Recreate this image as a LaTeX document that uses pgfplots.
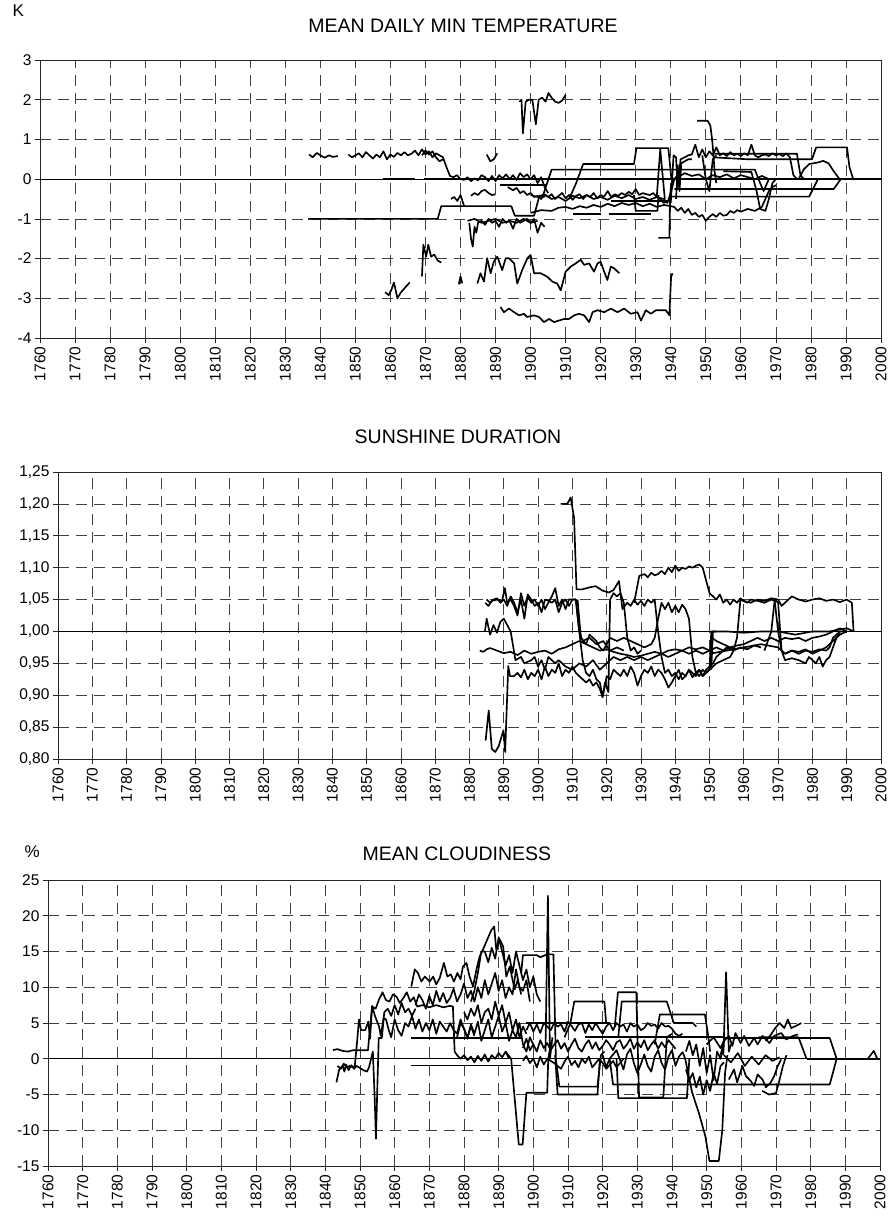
\documentclass[border=0pt]{standalone}
\usepackage{fontspec}
\setmainfont{Liberation Sans}
\usepackage{pgfplots}
\pgfplotsset{compat=1.18}
\newcommand\ticksize{\fontsize{15.5}{17}\selectfont}
\newcommand\titlesize{\fontsize{19.5}{22}\selectfont}
\pgfplotsset{
  panel/.style={
    scale only axis, xmin=1760, xmax=2000,
    xtick={1760,1770,...,2000},
    grid=major,
    major grid style={dash pattern=on 11pt off 7pt, black!75, line width=0.7pt},
    axis line style={line width=0.8pt, black!85},
    tick style={black!85, line width=0.7pt},
    tick align=outside, tick pos=left, major tick length=5pt,
    xticklabel style={rotate=90, anchor=east, font=\ticksize},
    yticklabel style={font=\ticksize},
    /pgf/number format/1000 sep={},
    /pgf/number format/assume math mode=true,
    clip=true,
  },
  d/.style={black, line width=1.65pt, line join=round, mark=none},
  base/.style={black, line width=0.8pt, mark=none},
}
\begin{document}
\begin{tikzpicture}
\useasboundingbox (0pt,0pt) rectangle (893pt,-1222pt);
% ===================== TOP: MEAN DAILY MIN TEMPERATURE =====================
\begin{axis}[panel, at={(40pt,-338pt)}, anchor=south west,
  width=841pt, height=278pt, ymin=-4, ymax=3, ytick={-4,-3,...,3}]
\addplot[base] coordinates {(1760,0) (2000,0)};
\addplot[d] coordinates {(1858,0) (1867,0)};
\addplot[d] coordinates {(1869.5,0) (2000,0)};
\addplot[d] coordinates {(1836.8,0.62) (1837.8,0.55) (1839,0.66) (1840,0.6) (1841.2,0.54) (1842.5,0.6) (1843.5,0.56) (1845,0.58)};
\addplot[d] coordinates {(1848,0.62) (1849,0.55) (1850,0.6) (1851,0.65) (1852,0.55) (1853,0.68) (1854,0.6) (1855,0.52) (1856,0.62) (1857,0.55) (1858,0.7) (1859,0.5) (1860,0.62) (1861,0.56) (1862,0.66) (1863,0.6) (1864,0.68) (1865,0.6) (1866,0.64) (1867,0.72) (1868,0.6) (1869,0.75) (1870,0.62) (1871,0.7) (1872,0.55) (1873,0.65) (1874,0.6) (1875,0.55) (1876,0.3) (1877,0.08) (1878,0.05) (1879,0.1) (1880,0.0) (1881,-0.02) (1882,0.05) (1883,-0.05) (1884,0.02) (1885,-0.03) (1886,0.1) (1887,0.05) (1888,-0.05) (1889,0.08) (1890,-0.05) (1891,0.1) (1892,0.02) (1893,0.12) (1894,0.0) (1895,0.1) (1896,-0.02) (1897,0.15) (1898,0.05) (1899,0.12) (1900,0.0) (1901,0.1) (1902,-0.1) (1903,0.05) (1904,-0.2) (1905,-0.35)};
\addplot[d] coordinates {(1869,0.6) (1870,0.72) (1871,0.62) (1872,0.7) (1873,0.55) (1874,0.45) (1875,0.5)};
\addplot[d] coordinates {(1887.5,0.62) (1888.5,0.45) (1889.5,0.5) (1890.5,0.65)};
\addplot[d] coordinates {(1896.8,1.95) (1897.4,2.0) (1897.8,1.15) (1898.6,1.95) (1899.5,2.0) (1900.5,2.0) (1901.5,1.38) (1902.3,2.0) (1903.3,2.05) (1904.3,1.95) (1905.1,2.17) (1906,2.05) (1907,1.95) (1908,1.92) (1909,1.98) (1910,2.12)};
\addplot[d] coordinates {(1836.5,-1.0) (1873.5,-1.0) (1874.5,-0.68) (1894.5,-0.68) (1895.5,-0.92) (1901,-0.92) (1902.5,-0.42) (1904,-0.45)};
\addplot[d] coordinates {(1911,-0.5) (1913,-0.1) (1915,0.38) (1929.5,0.38) (1930.2,0.78) (1939.3,0.78) (1940.2,0.0)};
\addplot[d] coordinates {(1903.5,-0.42) (1906,0.24) (1964,0.24) (1965.5,-0.1) (1966.5,-0.3) (1968,0.0)};
\addplot[d] coordinates {(1877.3,-0.5) (1878.2,-0.45) (1879.1,-0.55) (1880,-0.4) (1881,-0.67)};
\addplot[d] coordinates {(1883,-0.42) (1884,-0.35) (1885,-0.4) (1886,-0.3) (1887,-0.27) (1888,-0.35) (1889,-0.4) (1890,-0.38)};
\addplot[d] coordinates {(1893.5,-0.2) (1895,-0.28) (1896,-0.22) (1897,-0.35) (1898,-0.3) (1899,-0.4) (1900,-0.35) (1901,-0.45) (1902,-0.42) (1903,-0.5) (1904,-0.4) (1905,-0.45) (1906,-0.38) (1907,-0.5) (1908,-0.42) (1909,-0.35) (1910,-0.48) (1911,-0.4) (1912,-0.52) (1913,-0.42) (1914,-0.38) (1915,-0.5) (1916,-0.4) (1917,-0.45) (1918,-0.35) (1919,-0.48) (1920,-0.4) (1921,-0.44) (1922,-0.3) (1923,-0.45) (1924,-0.38) (1925,-0.42) (1926,-0.35) (1927,-0.4) (1928,-0.32) (1929,-0.38) (1930,-0.25) (1931,-0.4) (1932,-0.35) (1933,-0.38) (1934,-0.4) (1935,-0.35) (1936,-0.45) (1937,-0.5) (1938,-0.6) (1939,-0.55)};
\addplot[d] coordinates {(1900,-0.4) (1902,-0.45) (1904,-0.38) (1906,-0.5) (1908,-0.45) (1910,-0.55) (1912,-0.42) (1914,-0.48) (1916,-0.4) (1918,-0.5) (1920,-0.45) (1922,-0.52) (1924,-0.42) (1926,-0.48) (1928,-0.4) (1930,-0.5) (1932,-0.45) (1934,-0.52) (1936,-0.45) (1938,-0.5) (1939,-0.6) (1940,-0.35) (1941,0.0) (1942,0.1)};
\addplot[d] coordinates {(1900,-0.85) (1903,-0.78) (1906,-0.8) (1908,-0.72) (1910,-0.7) (1912,-0.75) (1914,-0.68) (1916,-0.72) (1918,-0.65) (1920,-0.7) (1922,-0.62) (1924,-0.68) (1926,-0.6) (1928,-0.65) (1930,-0.6) (1932,-0.68) (1934,-0.62) (1936,-0.7) (1938,-0.65) (1940,-0.68) (1941,-0.7) (1942,-0.8) (1943,-0.72) (1944,-0.85) (1945,-0.75) (1946,-0.9) (1947,-0.85) (1948,-0.95) (1949,-0.9) (1950,-1.05) (1951,-0.95) (1952,-0.88) (1953,-0.95) (1954,-0.85) (1955,-0.92) (1956,-0.9) (1957,-0.8) (1958,-0.85) (1959,-0.78) (1960,-0.82) (1962,-0.75) (1964,-0.8) (1966,-0.7) (1967,-0.5) (1968,-0.3) (1969,-0.2) (1970,-0.15)};
\addplot[d] coordinates {(1882.5,-1.1) (1883,-1.5) (1883.5,-1.7) (1884,-1.2) (1884.5,-1.35) (1885,-1.1) (1886,-1.05) (1887,-1.15) (1888,-1.0) (1889,-1.1) (1890,-1.05) (1891,-1.2) (1892,-1.0) (1893,-1.1) (1894,-1.05) (1895,-1.25) (1896,-1.0) (1897,-1.1) (1898,-1.05) (1899,-1.0) (1900,-1.1) (1901,-1.0) (1902,-1.35) (1903,-1.1) (1904,-1.2)};
\addplot[d] coordinates {(1882,-1.05) (1884,-1.0) (1886,-1.1) (1888,-1.05) (1890,-1.0) (1892,-1.1) (1894,-1.05) (1896,-1.1) (1898,-1.0) (1900,-1.1) (1902,-1.05)};
\addplot[d] coordinates {(1869,-2.45) (1869.4,-1.65) (1870.2,-1.95) (1870.8,-1.65) (1871.6,-1.95) (1872.5,-1.9) (1873.5,-2.05) (1874.5,-2.1)};
\addplot[d] coordinates {(1858.5,-2.85) (1859.5,-2.92) (1860.3,-2.78) (1861,-2.6) (1862,-3.0) (1863,-2.85) (1864,-2.75) (1865.5,-2.6)};
\addplot[d] coordinates {(1879.5,-2.65) (1880,-2.45) (1880.5,-2.62)};
\addplot[d] coordinates {(1884.8,-2.63) (1885.7,-2.37) (1886.7,-2.58) (1887.6,-1.99) (1888.6,-2.37) (1889.5,-2.08) (1890.5,-1.95) (1891.9,-2.29) (1892.9,-1.99) (1893.8,-1.99) (1895.3,-2.12) (1896.2,-2.63) (1897.6,-2.29) (1899.1,-1.99) (1900,-1.91) (1901,-2.37) (1902.9,-2.37) (1904.8,-2.46) (1906.2,-2.58) (1907.6,-2.63) (1908.6,-2.8) (1910,-2.33) (1911.5,-2.2) (1912.9,-2.12) (1914.3,-2.03) (1915.3,-2.16) (1916.7,-2.12) (1918.1,-2.33) (1919.1,-2.12) (1920,-2.08) (1921,-2.33) (1921.9,-2.54) (1922.9,-2.2) (1923.9,-2.25) (1925.3,-2.37)};
\addplot[d] coordinates {(1891.4,-3.22) (1892.4,-3.35) (1893.8,-3.26) (1895.3,-3.35) (1896.7,-3.43) (1898.1,-3.39) (1899,-3.47) (1901,-3.43) (1902.4,-3.47) (1903.8,-3.6) (1905.3,-3.52) (1906.7,-3.6) (1908.1,-3.56) (1909.6,-3.52) (1911,-3.52) (1912.4,-3.43) (1913.8,-3.39) (1915.3,-3.43) (1916.7,-3.6) (1917.7,-3.35) (1919.1,-3.3) (1921,-3.35) (1922.9,-3.26) (1924.8,-3.35) (1926.7,-3.26) (1928.6,-3.39) (1930.5,-3.35) (1931.5,-3.56) (1932.9,-3.3) (1934.3,-3.39) (1935.8,-3.3) (1937.2,-3.3) (1938.6,-3.3) (1939.6,-3.43) (1940.1,-2.46) (1940.5,-2.37)};
\addplot[d] coordinates {(1936.5,-1.48) (1939.6,-1.48) (1939.8,-0.4) (1940.2,-0.1)};
\addplot[d] coordinates {(1912,-0.88) (1920,-0.88)};
\addplot[d] coordinates {(1922.4,-0.88) (1934.3,-0.88)};
\addplot[d] coordinates {(1923,-0.55) (1940,-0.55)};
\addplot[d] coordinates {(1891.4,-0.15) (1904.8,-0.15)};
\addplot[d] coordinates {(1929.5,-0.4) (1930,-0.8) (1936.2,-0.8) (1936.5,-0.4)};
\addplot[d] coordinates {(1947.5,1.47) (1950.5,1.47) (1951.3,1.35) (1951.8,1.0) (1952.2,0.6) (1952.5,0.2) (1953,-0.1)};
\addplot[d] coordinates {(1936,-0.45) (1937,0.75) (1938.3,-0.5)};
\addplot[d] coordinates {(1940,-0.6) (1940.8,0.6) (1941.5,0.55) (1942,-0.2) (1942.8,0.5) (1944,0.55) (1945,0.6) (1946,0.62) (1947,0.87) (1948,0.55) (1949,0.75) (1950,0.55) (1951,0.7) (1952,0.6) (1953,0.8) (1954,0.6) (1955,0.65) (1956,0.58) (1957,0.68) (1958,0.6) (1959,0.64) (1960,0.58) (1961,0.65) (1962,0.6) (1963,0.87) (1964,0.6) (1965,0.55) (1966,0.6) (1967,0.62) (1968,0.58) (1969,0.65) (1970,0.6) (1971,0.63) (1972,0.58) (1973,0.65) (1974,0.55) (1975,0.1) (1976,0.0)};
\addplot[d] coordinates {(1952.5,0.64) (1976,0.64) (1977,0.1) (1978,0.0)};
\addplot[d] coordinates {(1952,0.55) (1962,0.5) (1980.3,0.5) (1981.5,0.8) (1990.3,0.8) (1991,0.3) (1992,0.02)};
\addplot[d] coordinates {(1976.5,0.0) (1978,0.25) (1979.5,0.38) (1982,0.42) (1983.5,0.46) (1985,0.4) (1986.5,0.2) (1988,0.02)};
\addplot[d] coordinates {(1941,-0.25) (1986.5,-0.25) (1988.5,0.0)};
\addplot[d] coordinates {(1940,-0.44) (1979.5,-0.44) (1982,0.0)};
\addplot[d] coordinates {(1942,0.05) (1944,0.15) (1946,0.08) (1948,0.12) (1950,0.0) (1952,0.1) (1954,0.05) (1956,0.12) (1958,0.02) (1960,0.1) (1962,0.05) (1964,0.0) (1966,0.08) (1968,0.0)};
\addplot[d] coordinates {(1955,0.2) (1963,0.18) (1964.5,-0.3) (1965.5,-0.75) (1967,-0.8) (1968,-0.5) (1969,-0.1) (1970,0.0)};
\addplot[d] coordinates {(1949,0.6) (1950,0.0) (1951,-0.3) (1952,0.5) (1953,0.6)};
\addplot[d] coordinates {(1941.5,-0.5) (1942,0.35) (1942.5,-0.3) (1943,0.4) (1944,0.45) (1945,0.5) (1946,0.5)};
\end{axis}
\node[anchor=base west, font=\fontsize{17}{19}\selectfont] at (9pt,-17pt) {K};
\node[anchor=base, font=\titlesize] at (463pt,-33pt) {MEAN DAILY MIN TEMPERATURE};
% ===================== MIDDLE: SUNSHINE DURATION =====================
\begin{axis}[panel, at={(58pt,-759pt)}, anchor=south west,
  width=823pt, height=287pt, ymin=0.8, ymax=1.25,
  ytick={0.80,0.85,0.90,0.95,1.00,1.05,1.10,1.15,1.20,1.25},
  yticklabel style={/pgf/number format/.cd, fixed, fixed zerofill, precision=2, use comma}]
\addplot[base] coordinates {(1760,1) (2000,1)};
\addplot[d] coordinates {(1990,1) (2000,1)};
\addplot[d] coordinates {(1906.6,1.2) (1908.5,1.2) (1909.5,1.21) (1910.5,1.178) (1911.2,1.066) (1912.9,1.066) (1914.9,1.069) (1916.8,1.071) (1918.8,1.064) (1920.7,1.061) (1922,1.065) (1923.6,1.079) (1924.6,1.035) (1926,1.045) (1927,1.04) (1928,1.05) (1929,1.042) (1930,1.048) (1931,1.04) (1932,1.05) (1933,1.045) (1934,1.05) (1935,1.0) (1936,0.96) (1937,0.935) (1938,0.94) (1939,0.93) (1940,0.935) (1941,0.925) (1942,0.935) (1943,0.93) (1944,0.94) (1945,0.928) (1946,0.935) (1947,0.93) (1948,0.94) (1949,0.935) (1950,0.94) (1950.5,1.0) (1952,1.0)};
\addplot[d] coordinates {(1928,1.045) (1929.5,1.087) (1931,1.09) (1932,1.085) (1933,1.092) (1934,1.088) (1935,1.09) (1936,1.095) (1937,1.09) (1938,1.1) (1939,1.093) (1940,1.103) (1941,1.095) (1942,1.1) (1943,1.098) (1944,1.102) (1945,1.1) (1946,1.103) (1947,1.105) (1948,1.1) (1949,1.08) (1950,1.06) (1951,1.055) (1952,1.05) (1953,1.058) (1954,1.045) (1955,1.05) (1956,1.042) (1957,1.05) (1958,1.045) (1959,1.052) (1960,1.048) (1962,1.045) (1964,1.05) (1966,1.048) (1968,1.052) (1970,1.05) (1971,1.04) (1972,1.045) (1974,1.055) (1976,1.05) (1978,1.047) (1980,1.05) (1982,1.052) (1984,1.048) (1986,1.05) (1988,1.046) (1990,1.05) (1991.5,1.045) (1992,1.0)};
\addplot[d] coordinates {(1884.6,1.045) (1885.5,1.04) (1886.5,1.048) (1888,1.05) (1889.5,1.048) (1890.3,1.068) (1891,1.045) (1892,1.05) (1893,1.04) (1894,1.025) (1895,1.06) (1896,1.04) (1897,1.055) (1898,1.045) (1899,1.05) (1900,1.04) (1901,1.05) (1902,1.035) (1903,1.045) (1904,1.055) (1905,1.068) (1906,1.04) (1907,1.05) (1908,1.035) (1909,1.05) (1910,1.05) (1911,1.05) (1912,1.0) (1913,0.985) (1915,0.99) (1917,0.98) (1919,0.985) (1921,0.97) (1923,0.975) (1925,0.97)};
\addplot[d] coordinates {(1885,1.05) (1886,1.045) (1887,1.05) (1888,1.052) (1889,1.045) (1890,1.05) (1891,1.04) (1892,1.055) (1893,1.045) (1894,1.03) (1895,1.05) (1896,1.02) (1897,1.058) (1898,1.05) (1899,1.04) (1900,1.045) (1901,1.03) (1902,1.05) (1903,1.048) (1904,1.045) (1905,1.05) (1906,1.03) (1907,1.045) (1908,1.05) (1909,1.04) (1910,1.05) (1911,1.05) (1912,1.0) (1913,0.955) (1914,0.935) (1915,0.93) (1916,0.94) (1917,0.925) (1918,0.92) (1918.8,0.897) (1919.5,0.92) (1920.5,0.905) (1921,1.05) (1922,1.06) (1923,1.055) (1924,1.06) (1925,1.045) (1926,0.99) (1927,0.97) (1928,0.975) (1929,0.965) (1930,0.97)};
\addplot[d] coordinates {(1884.5,1.0) (1885,1.02) (1886,0.995) (1887,1.01) (1888,0.998) (1889,1.015) (1890,1.02) (1891,1.01) (1892,1.0) (1893.4,0.955) (1895,0.96) (1896,0.95) (1898,0.955) (1899,0.96) (1900,0.945) (1901,0.955) (1902,0.94) (1903,0.96) (1904,0.955) (1905,0.95) (1906,0.955) (1908,0.945) (1910,0.94) (1912,0.95) (1914,0.945) (1916,0.955) (1918,0.94) (1920,0.95) (1922,0.96) (1924,0.955) (1926,0.96) (1928,0.955) (1930,0.96) (1932,0.955) (1934,0.96) (1936,0.965) (1938,0.96) (1940,0.965) (1942,0.97) (1944,0.965) (1946,0.97) (1948,0.965) (1950,0.97)};
\addplot[d] coordinates {(1884.7,0.829) (1885.6,0.876) (1886.5,0.816) (1887.5,0.811) (1888.5,0.82) (1889.9,0.845) (1890.4,0.811) (1891.3,0.946) (1891.8,0.93) (1893,0.93) (1894,0.935) (1895,0.928) (1896,0.94) (1897,0.925) (1898,0.935) (1899,0.93) (1900,0.94) (1901,0.925) (1902,0.945) (1903,0.93) (1904,0.94) (1905,0.935) (1906,0.95) (1907,0.93) (1908,0.94) (1909,0.935) (1910,0.945) (1911,0.935) (1912,0.93) (1913,0.925) (1914,0.92) (1915,0.925) (1916,0.915) (1917,0.92) (1918,0.91) (1918.8,0.897) (1919.5,0.915) (1920,0.93) (1921,0.925) (1922,0.94) (1923,0.935) (1924,0.93) (1925,0.94) (1926,0.93) (1927,0.945) (1928,0.935) (1929,0.915) (1930,0.93) (1931,0.94) (1932,0.935) (1933,0.945) (1934,0.93) (1935,0.94) (1936,0.935) (1937,0.925) (1938,0.912) (1939,0.92) (1940,0.93) (1941,0.94) (1942,0.925) (1943,0.93) (1944,0.94) (1945,0.935) (1946,0.93) (1947,0.94) (1948,0.93) (1949,0.94) (1950,0.945) (1951,0.95) (1952,0.96) (1953,0.965) (1954,0.97) (1955,0.975) (1957,0.97) (1959,0.975) (1961,0.972) (1963,0.978) (1965,0.975)};
\addplot[d] coordinates {(1883,0.97) (1884,0.968) (1885,0.972) (1886,0.974) (1888,0.97) (1890,0.966) (1892,0.968) (1894,0.963) (1896,0.97) (1898,0.965) (1900,0.968) (1902,0.97) (1904,0.965) (1906,0.972) (1908,0.975) (1910,0.98) (1912,0.985) (1914,0.98) (1916,0.975) (1918,0.97) (1920,0.972) (1922,0.968) (1924,0.965) (1926,0.963) (1928,0.96) (1930,0.962) (1932,0.965) (1934,0.968) (1936,0.965) (1938,0.97) (1940,0.972) (1942,0.97) (1944,0.975) (1946,0.972) (1948,0.975) (1950,0.97) (1952,0.975) (1954,0.97) (1956,0.975) (1958,0.978) (1960,0.98) (1962,0.985) (1964,0.99) (1966,0.985) (1968,0.99) (1970,0.985) (1972,0.99) (1974,0.988) (1976,0.99) (1978,0.985) (1980,0.99) (1982,0.992) (1984,0.995) (1986,1.0) (1988,1.005) (1990,1.0)};
\addplot[d] coordinates {(1911.5,1.05) (1912.5,0.99) (1914,0.98) (1915,0.995) (1917,0.985) (1918,0.975) (1919,0.97) (1920,0.98) (1921,0.99) (1923,0.985) (1925,0.99) (1927,0.985) (1929,0.98) (1931,0.975) (1933,0.98) (1934,0.99) (1935,1.02) (1936,1.045) (1937,1.035) (1938,1.045) (1939,1.03) (1940,1.04) (1941,1.03) (1942,1.042) (1943,1.035) (1944,1.02) (1945,0.96) (1946,0.935) (1947,0.94) (1948,0.93) (1949,0.935) (1950,0.94) (1950.7,0.99) (1952,0.985) (1954,0.98) (1956,0.975) (1958,0.972)};
\addplot[d] coordinates {(1950,0.94) (1952,0.95) (1954,0.955) (1956,0.96) (1957,0.97) (1958,0.99) (1959,1.05) (1961,1.045) (1962,1.05) (1964,1.048) (1966,1.045) (1968,1.05) (1969,1.048) (1970,1.0) (1971,0.97) (1972,0.965) (1974,0.97) (1976,0.965) (1978,0.97) (1980,0.968) (1982,0.972) (1984,0.97) (1985,0.975) (1986,0.99) (1988,1.0) (1990,1.0)};
\addplot[d] coordinates {(1966,0.97) (1968,1.0) (1969,1.05) (1970,1.045) (1971,0.97) (1972,0.955) (1974,0.958) (1976,0.955) (1978,0.95) (1979,0.96) (1980,0.955) (1981,0.95) (1982,0.96) (1983,0.945) (1984,0.955) (1985,0.96) (1986,0.975) (1987,0.99) (1988,1.0)};
\addplot[d] coordinates {(1950.5,0.94) (1951,1.0) (1955,1.0) (1960,0.998) (1965,1.0) (1970,1.0) (1975,0.995) (1980,1.0) (1985,1.0) (1990,1.005) (1992,1.0)};
\addplot[d] coordinates {(1950,0.965) (1955,0.97) (1960,0.975) (1965,0.98) (1970,0.975) (1972,0.965) (1974,0.97) (1976,0.968) (1978,0.972) (1980,0.965) (1982,0.97) (1984,0.975) (1986,0.985) (1988,0.995) (1990,1.0)};
\end{axis}
\node[anchor=base, font=\titlesize] at (458pt,-443pt) {SUNSHINE DURATION};
% ===================== BOTTOM: MEAN CLOUDINESS =====================
\begin{axis}[panel, at={(48pt,-1166pt)}, anchor=south west,
  width=832pt, height=286pt, ymin=-15, ymax=25, ytick={-15,-10,...,25}]
\addplot[base] coordinates {(1760,0) (2000,0)};
\addplot[d] coordinates {(1979,0) (2000,0)};
\addplot[d] coordinates {(1842.2,1.2) (1843.5,1.35) (1845,1.1) (1846.5,1.0) (1848,1.2) (1850,1.2) (1852.3,1.2) (1853,5.0) (1853.5,7.3) (1854.5,7.0) (1855.5,8.3) (1856.5,9.3) (1857.5,8.2) (1858.5,8.0) (1859.5,9.0) (1860.5,8.7) (1861.5,7.8) (1862.5,8.5) (1863.5,9.3) (1864.5,8.0) (1865.5,8.6) (1866.5,7.3) (1868,7.5) (1870,7.2) (1872,7.5) (1874,7.2) (1876,7.4) (1876.8,7.3) (1877.3,1.0) (1878,0.5) (1879,0.0) (1880,0.5) (1881,-0.2) (1882,0.3) (1883,-0.5) (1884,0.4) (1885,-0.3) (1886,0.6) (1887,-0.4) (1888,0.5) (1889,0.0) (1890,0.8) (1891,0.2) (1892,1.0) (1893,0.0)};
\addplot[d] coordinates {(1843.2,-3.3) (1844,-1.5) (1845,-1.0) (1845.5,-1.8) (1846,-0.8) (1846.7,-1.6) (1847.5,-0.9) (1848.3,-1.4) (1849,-1.0) (1850,-1.3) (1851,-1.6) (1852,-1.8) (1852.6,-1.2) (1853.2,0.0) (1853.7,1.0) (1854.2,-5) (1854.6,-11.2) (1855,-4) (1855.4,2.9) (1856.3,2.9) (1857,6.5) (1858,7.0) (1859,6.0) (1860,7.5) (1861,6.2) (1862,7.8) (1863,6.5) (1864,7.0) (1865,6.0) (1866,7.0)};
\addplot[d] coordinates {(1843.5,-1.0) (1844.5,-1.4) (1845.3,-0.7) (1846.2,-1.2) (1847,-1.0) (1848,-1.2) (1848.5,-1.0) (1849.2,2.6) (1849.7,5.5) (1850.3,4.0) (1851.5,4.0) (1852.4,5.2) (1852.9,2.8) (1853.5,7.4) (1854.3,6.0) (1855.5,4.5) (1856,3.2) (1856.8,5.7) (1857.5,5.5) (1858.3,4.0) (1859,3.0) (1860,5.5) (1861,4.0) (1862,3.2) (1863,5.0) (1864,4.5) (1865,6.0) (1866,4.2) (1867,5.5) (1868,3.8) (1869,5.0) (1870,4.0) (1871,5.5) (1872,3.5) (1873,5.2) (1874,4.5) (1875,3.8) (1876,5.0) (1877,4.0) (1878,3.5) (1879,5.5) (1880,4.2) (1881,3.0) (1882,4.6) (1883,3.2)};
\addplot[d] coordinates {(1864.8,10.1) (1865.8,12.5) (1866.7,12.0) (1867.7,10.8) (1868.7,11.5) (1870.1,10.8) (1871.1,11.5) (1872,10.4) (1873,11.3) (1874.2,13.4) (1875.2,11.5) (1876.2,11.8) (1877.1,10.8) (1878.1,12.0) (1879,11.1) (1879.7,12.9) (1880.7,13.4) (1881.6,11.5) (1882.6,10.1) (1883.6,12.5) (1884.5,14.3) (1885.5,15.3) (1886.9,16.9) (1887.9,18.0) (1888.7,18.5) (1889.3,15.3) (1890.3,16.7) (1891.3,15.7) (1892.2,11.5) (1893.2,12.9) (1894.6,9.7) (1895.5,11.0) (1896.5,9.0)};
\addplot[d] coordinates {(1882,8.0) (1883,9.5) (1884,12.0) (1885,15.0) (1886,15.0) (1887,13.5) (1888,15.5) (1889,14.0) (1890,17.0) (1891,15.0) (1892,13.0) (1893,14.5) (1894,12.0) (1895,15.0) (1896,13.0) (1897,11.0) (1898,12.5) (1899,10.0) (1900,11.5) (1901,9.0) (1902,8.0)};
\addplot[d] coordinates {(1896.5,12) (1897,14.5) (1901,14.5) (1902,14.2) (1904,14.6) (1905.8,14.6) (1906.5,0) (1907.5,-3.9) (1918.5,-3.9) (1919.5,0.5) (1920.5,1.0)};
\addplot[d] coordinates {(1892,1.0) (1893.6,0.0) (1895.8,-12.0) (1896.9,-12.0) (1898,-4.75) (1904,-4.75) (1904.3,0.0) (1905,2.0)};
\addplot[d] coordinates {(1903.5,1.0) (1904.2,22.8) (1904.8,0.0) (1905.5,3.0)};
\addplot[d] coordinates {(1878,3.0) (1879,5.0) (1880,4.2) (1881,2.8) (1882,4.8) (1883,3.5) (1884,5.2) (1885,2.5) (1886,4.0) (1887,5.5) (1888,3.0) (1889,4.5) (1890,6.0) (1891,3.8) (1892,5.0) (1893,2.5) (1894,4.0) (1895,3.0) (1896,5.0) (1897,2.0) (1898,1.0) (1899,3.0) (1900,2.0)};
\addplot[d] coordinates {(1866,7.5) (1867,9.0) (1868,8.2) (1869,7.0) (1870,8.8) (1871,7.5) (1872,9.5) (1873,8.0) (1874,9.2) (1875,7.8) (1876,8.5) (1877,9.8) (1878,8.0) (1879,9.0) (1880,10.5) (1881,8.5) (1882,9.5) (1883,8.0) (1884,10.0) (1885,8.5) (1886,11.0) (1887,9.0) (1888,10.5) (1889,12.0) (1890,9.5) (1891,11.0) (1892,8.5) (1893,10.0) (1894,9.0) (1895,12.5) (1896,10.0) (1897,9.5) (1898,11.0) (1899,8.0)};
\addplot[d] coordinates {(1880,6.5) (1881,5.5) (1882,7.0) (1883,6.0) (1884,7.5) (1885,5.0) (1886,6.5) (1887,7.0) (1888,5.5) (1889,8.0) (1890,6.0) (1891,7.5) (1892,5.0) (1893,6.5) (1894,4.0) (1895,5.5) (1896,3.0) (1897,4.5) (1898,3.5)};
\addplot[d] coordinates {(1864.8,2.9) (1896.5,2.9)};
\addplot[d] coordinates {(1864.8,-0.95) (1896.5,-0.95)};
\addplot[d] coordinates {(1898,4.0) (1899,5.0) (1900,3.8) (1901,4.8) (1902,3.6) (1903,5.0) (1905,4.0) (1906,5.0) (1907,4.5) (1908,4.8) (1909,3.8) (1910,5.2) (1911,4.6) (1912,3.9) (1913,4.8) (1914,5.0) (1915,3.6) (1916,4.8) (1917,4.0) (1918,5.0) (1919,4.2) (1920,3.5) (1921,4.5) (1922,5.0) (1923,4.0) (1924,5.0) (1925,4.5) (1926,4.8) (1927,3.8) (1928,5.0) (1929,4.5) (1930,4.8) (1931,4.0) (1932,4.3) (1933,5.0) (1934,4.6) (1935,4.8) (1936,4.2) (1937,5.0) (1938,4.5) (1939,4.6) (1940,4.2) (1941,3.5) (1942,3.2) (1943,3.5)};
\addplot[d] coordinates {(1897,1.5) (1898,2.8) (1899,1.2) (1900,2.0) (1901,1.0) (1902,2.6) (1903,1.5) (1904,2.2) (1905,1.2) (1906,2.0) (1907,2.6) (1908,1.4) (1909,2.2) (1910,1.0) (1911,2.0) (1912,2.8) (1913,1.5) (1914,1.0) (1915,2.0) (1916,2.6) (1917,1.4) (1918,2.3) (1919,1.2) (1920,1.8) (1921,2.6) (1922,2.0) (1923,1.2) (1924,2.3) (1925,2.6) (1926,1.4) (1927,2.0) (1928,2.8) (1929,1.4) (1930,2.3) (1931,1.6) (1932,2.6) (1933,1.2) (1934,2.0) (1935,2.6) (1936,1.4) (1937,2.3) (1938,1.6) (1939,2.6) (1940,2.0) (1941,1.4)};
\addplot[d] coordinates {(1897,-0.3) (1898,0.4) (1899,-0.6) (1900,0.0) (1901,-1.2) (1902,0.3) (1903,-0.8) (1904,0.0) (1906,-0.6) (1908,-1.4) (1909,-0.4) (1910,0.3) (1911,-0.9) (1912,-0.3) (1913,-1.2) (1914,0.0) (1915,-0.6) (1916,0.3) (1917,-1.2) (1918,-0.6) (1919,0.0) (1920,-0.6) (1921,-1.4) (1922,-0.9) (1923,-0.3) (1924,-1.2) (1925,-0.6) (1926,0.0)};
\addplot[d] coordinates {(1915,3.0) (1955,3.0)};
\addplot[d] coordinates {(1898,5.0) (1922,5.0)};
\addplot[d] coordinates {(1909,3.0) (1910.7,5.0) (1911.8,8.0) (1920.5,8.0) (1921,5.0)};
\addplot[d] coordinates {(1906.3,0.5) (1907,-5.0) (1918.5,-5.0) (1919.2,0.0)};
\addplot[d] coordinates {(1923.5,4.5) (1924.4,9.3) (1929.7,9.3) (1930.5,-5.4) (1937.5,-5.4) (1938.5,3.0) (1940,3.5)};
\addplot[d] coordinates {(1924.5,3.0) (1925.5,8.0) (1938.5,8.0) (1940.5,5.0) (1946,5.0) (1947,4.5)};
\addplot[d] coordinates {(1935,2.0) (1936.5,6.2) (1949.5,6.2) (1950.5,3.0) (1951,1.0)};
\addplot[d] coordinates {(1922,0.0) (1923,-3.6) (1985.5,-3.6) (1987.5,0.0)};
\addplot[d] coordinates {(1954,0.5) (1955.2,2.9) (1985.5,2.9) (1987.5,0.0)};
\addplot[d] coordinates {(1924,0.0) (1924.5,-5.5) (1944.3,-5.5) (1945,0.0)};
\addplot[d] coordinates {(1943,1.0) (1943.8,0.0) (1945.8,-4.7) (1947.7,-7.5) (1949.6,-10.8) (1950.8,-14.3) (1953.5,-14.3) (1954.5,-10.0) (1955.3,-2.0) (1956,0.5)};
\addplot[d] coordinates {(1954.8,0.5) (1955.6,12.1) (1956.4,1.0) (1957,2.0)};
\addplot[d] coordinates {(1950,2.0) (1952,3.0) (1954,1.5) (1955,2.5) (1956.4,3.2) (1957.4,1.8) (1958.3,3.6) (1959.8,2.2) (1960.8,3.2) (1962.2,1.8) (1963.7,2.9) (1964.7,2.0) (1966.1,3.2) (1968.1,2.2) (1969.5,3.2) (1971.5,3.6) (1972.9,2.7) (1974.9,3.2) (1976.3,3.4)};
\addplot[d] coordinates {(1956.4,-2.9) (1957.9,-1.5) (1958.8,-3.3) (1960.3,-1.0) (1961.3,-2.4) (1962.7,-3.1) (1963.7,-3.8) (1964.7,-2.2) (1966.1,-2.9) (1967.1,-4.0) (1968.5,-3.3) (1969.5,-2.4) (1970.5,-1.0) (1971.5,-0.1)};
\addplot[d] coordinates {(1944,1.0) (1945,2.5) (1946,0.5) (1947,2.0) (1948,-1.0) (1949,1.5) (1950,-2.0) (1951,0.5) (1952,-3.0) (1953,1.0) (1954,0.0) (1955,2.0)};
\addplot[d] coordinates {(1944,-1.5) (1945,-3.0) (1946,-2.0) (1947,-4.0) (1948,-2.5) (1949,-5.0) (1950,-3.0) (1951,-4.5) (1952,-2.0) (1953,-3.5) (1954,-1.0) (1955,-0.5)};
\addplot[d] coordinates {(1967,2.5) (1968,3.0) (1969.5,4.1) (1971,5.0) (1972.4,4.3) (1973.4,5.5) (1974.4,4.3) (1975.8,4.6) (1977.3,5.0)};
\addplot[d] coordinates {(1965,3.0) (1976.5,3.0) (1978.8,0.0)};
\addplot[d] coordinates {(1996.5,0.0) (1998.2,1.1) (1999.2,0.0)};
\addplot[d] coordinates {(1966,-4.5) (1968,-5.0) (1970,-4.8) (1971,-3.0) (1972,-1.0) (1973,0.5)};
\addplot[d] coordinates {(1955,0.5) (1957,-0.5) (1959,0.8) (1961,-1.0) (1963,0.3) (1965,-0.8) (1967,0.5) (1969,-0.3) (1971,0.2)};
\addplot[d] coordinates {(1920,0.5) (1921,-1.2) (1922,0.0) (1924,1.2) (1926,-1.5) (1927,0.6) (1928,1.4) (1929,-0.6) (1930,-2.0) (1931,-0.8) (1932,0.6) (1933,-1.0) (1934,-1.8) (1935,0.3) (1936,1.2) (1937,-0.6) (1938,-1.5) (1939,0.3) (1940,1.2) (1941,-1.0) (1942,0.3) (1943,0.9)};
\end{axis}
\node[anchor=base west, font=\fontsize{17}{19}\selectfont] at (21pt,-857pt) {\%};
\node[anchor=base, font=\titlesize] at (457pt,-860pt) {MEAN CLOUDINESS};
\end{tikzpicture}
\end{document}
